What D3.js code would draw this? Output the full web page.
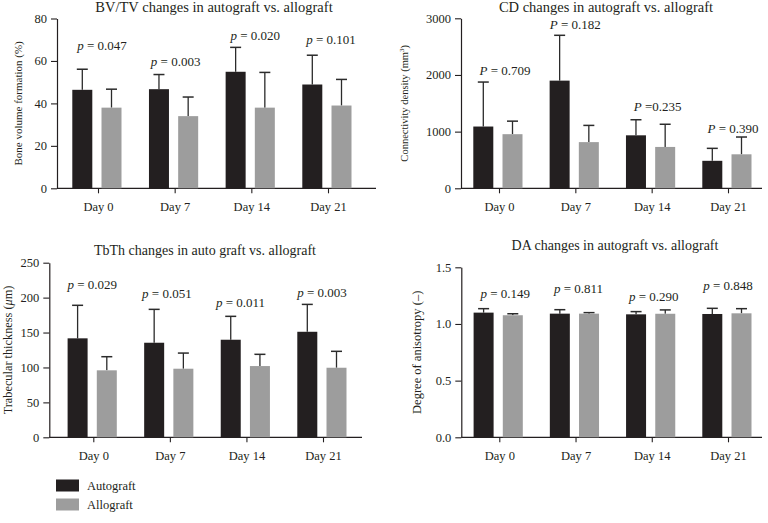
<!DOCTYPE html>
<html><head><meta charset="utf-8">
<script src="https://cdn.jsdelivr.net/npm/d3@7"></script>
<style>
html,body{margin:0;padding:0;background:#fff;}
text{font-family:"Liberation Serif","Times New Roman",serif;fill:#231f20;}
</style></head>
<body>
<svg id="c" width="768" height="523"></svg>
<script>
const categories = ["Day 0", "Day 7", "Day 14", "Day 21"];
const seriesNames = ["Autograft", "Allograft"];

// BV/TV (%)
const bvAuto = [46.4, 46.7, 54.9, 48.9];
const bvAutoErr = [56.1, 53.6, 66.4, 62.7];
const bvAllo = [38.0, 34.0, 38.0, 39.0];
const bvAlloErr = [46.7, 43.0, 54.6, 51.3];
const bvP = ["0.047", "0.003", "0.020", "0.101"];
const bvPAt = [65, 57.4, 70, 68];
const bvTicks = [0, 20, 40, 60, 80];

// CD (mm^3)
const cdAuto = [1090, 1900, 935, 485];
const cdAutoErr = [1875, 2700, 1210, 705];
const cdAllo = [955, 815, 730, 600];
const cdAlloErr = [1185, 1110, 1130, 905];
const cdP = ["= 0.709", "= 0.182", "=0.235", "= 0.390"];
const cdPAt = [2000, 2806, 1364, 981];
const cdTicks = [0, 1000, 2000, 3000];

// TbTh (um)
const tbAuto = [141.7, 135.4, 139.7, 151.1];
const tbAutoErr = [189, 183.2, 173.2, 190.3];
const tbAllo = [95.9, 98.2, 102, 99.6];
const tbAlloErr = [115.4, 120.6, 118.8, 123.1];
const tbP = ["0.029", "0.051", "0.011", "0.003"];
const tbPAt = [212, 200, 187, 201];
const tbTicks = [0, 50, 100, 150, 200, 250];

// DA (-)
const daAuto = [1.100, 1.091, 1.085, 1.088];
const daAutoErr = [1.135, 1.126, 1.109, 1.138];
const daAllo = [1.077, 1.091, 1.090, 1.094];
const daAlloErr = [1.090, 1.100, 1.124, 1.135];
const daP = ["0.149", "0.811", "0.290", "0.848"];
const daPAt = [1.227, 1.27, 1.205, 1.30];
const daTicks = [0.0, 0.5, 1.0, 1.5];

const colAuto = "#231f20", colAllo = "#9d9d9d", colErr = "#2b2b2b";
const svg = d3.select("#c");

function panel(cfg) {
  const g = svg.append("g");
  const y = d3.scaleLinear().domain([cfg.ticks[0], cfg.ticks[cfg.ticks.length-1]]).range([cfg.y0, cfg.yTop]);
  const x = d3.scalePoint().domain(categories).range([cfg.x0 + cfg.padL, cfg.x1 - cfg.padR]);

  const ya = g.append("g").attr("transform", `translate(${cfg.x0},0)`)
    .call(d3.axisLeft(y).tickValues(cfg.ticks).tickFormat(cfg.fmt).tickSize(6).tickSizeOuter(0).tickPadding(4));
  ya.select(".domain").attr("stroke", "#231f20").attr("stroke-width", 1.2);
  ya.selectAll(".tick line").attr("stroke", "#231f20").attr("stroke-width", 1.1);
  ya.selectAll("text").style("font-size", "12.5px").style("font-family", "Liberation Serif").attr("fill", "#231f20");

  const xa = g.append("g").attr("transform", `translate(0,${cfg.y0})`)
    .call(d3.axisBottom(x).tickSize(5).tickSizeOuter(0).tickPadding(9));
  xa.select(".domain").attr("d", `M${cfg.x0},0H${cfg.x1}`).attr("stroke", "#231f20").attr("stroke-width", 1.2);
  xa.selectAll(".tick line").attr("stroke", "#231f20").attr("stroke-width", 1.1);
  xa.selectAll("text").style("font-size", "12.5px").style("font-family", "Liberation Serif").attr("fill", "#231f20");

  const series = [
    {v: cfg.auto, e: cfg.autoErr, c: colAuto, dx: -25.7},
    {v: cfg.allo, e: cfg.alloErr, c: colAllo, dx: 3.5}
  ];
  const bw = 20;
  series.forEach(s => {
    categories.forEach((cat, i) => {
      const cx = x(cat) + s.dx + bw / 2;
      g.append("line").attr("x1", cx).attr("x2", cx).attr("y1", y(s.v[i])).attr("y2", y(s.e[i]))
        .attr("stroke", colErr).attr("stroke-width", 1.3);
      g.append("line").attr("x1", cx - 5.5).attr("x2", cx + 5.5).attr("y1", y(s.e[i])).attr("y2", y(s.e[i]))
        .attr("stroke", colErr).attr("stroke-width", 1.5);
      g.append("rect").attr("x", x(cat) + s.dx).attr("width", bw)
        .attr("y", y(s.v[i])).attr("height", y(cfg.ticks[0]) - y(s.v[i])).attr("fill", s.c);
    });
  });

  categories.forEach((cat, i) => {
    const t = g.append("text").attr("x", x(cat) + cfg.pdx[i]).attr("y", y(cfg.pAt[i]))
      .attr("text-anchor", "middle").style("font-size", "13px");
    t.append("tspan").attr("font-style", "italic").text(cfg.pSym);
    t.append("tspan").text(cfg.pSym === "P" ? " " + cfg.p[i] : " = " + cfg.p[i]);
  });

  g.append("text").attr("x", cfg.titleX).attr("y", cfg.titleY).attr("text-anchor", "middle")
    .style("font-size", cfg.titleSize + "px").text(cfg.title);

  const yl = g.append("text").attr("transform", `translate(${cfg.ylx},${(cfg.y0 + cfg.yTop) / 2}) rotate(-90)`)
    .attr("text-anchor", "middle").attr("dy", "0.35em").style("font-size", cfg.ylSize + "px");
  cfg.ylabel(yl);
}

panel({x0: 57, x1: 376, yTop: 18.5, y0: 188.3, padL: 41, padR: 48, ticks: bvTicks, fmt: d3.format("d"),
  auto: bvAuto, autoErr: bvAutoErr, allo: bvAllo, alloErr: bvAlloErr, p: bvP, pAt: bvPAt, pSym: "p",
  pdx: [4, 1, 4, 3],
  title: "BV/TV changes in autograft vs. allograft", titleX: 214, titleY: 11.5, titleSize: 14.5, ylx: 18, ylSize: 11,
  ylabel: t => t.text("Bone volume formation (%)")});

panel({x0: 461, x1: 762, yTop: 18.3, y0: 188.3, padL: 38, padR: 34, ticks: cdTicks, fmt: d3.format("d"),
  auto: cdAuto, autoErr: cdAutoErr, allo: cdAllo, alloErr: cdAlloErr, p: cdP, pAt: cdPAt, pSym: "P",
  pdx: [6, 0, 6, 5],
  title: "CD changes in autograft vs. allograft", titleX: 606, titleY: 11.5, titleSize: 14.5, ylx: 404, ylSize: 10.5,
  ylabel: t => { t.append("tspan").text("Connectivity density (mm"); t.append("tspan").attr("baseline-shift", "super").style("font-size", "7px").text("3"); t.append("tspan").text(")"); }});

panel({x0: 49.3, x1: 362, yTop: 262.7, y0: 437.3, padL: 44, padR: 39, ticks: tbTicks, fmt: d3.format("d"),
  auto: tbAuto, autoErr: tbAutoErr, allo: tbAllo, alloErr: tbAlloErr, p: tbP, pAt: tbPAt, pSym: "p",
  pdx: [-1, -3, -6, -1],
  title: "TbTh changes in auto graft vs. allograft", titleX: 205, titleY: 255, titleSize: 14, ylx: 8, ylSize: 12.3,
  ylabel: t => { t.append("tspan").text("Trabecular thickness ("); t.append("tspan").attr("font-style", "italic").text("μ"); t.append("tspan").text("m)"); }});

panel({x0: 461.3, x1: 762, yTop: 267.3, y0: 437.3, padL: 38, padR: 34, ticks: daTicks, fmt: d3.format(".1f"),
  auto: daAuto, autoErr: daAutoErr, allo: daAllo, alloErr: daAlloErr, p: daP, pAt: daPAt, pSym: "p",
  pdx: [6, 3, 2, 0],
  title: "DA changes in autograft vs. allograft", titleX: 615, titleY: 250, titleSize: 14, ylx: 417, ylSize: 12.5,
  ylabel: t => t.text("Degree of anisotropy (–)")});

const leg = svg.append("g");
seriesNames.forEach((n, i) => {
  leg.append("rect").attr("x", 56).attr("y", 479.5 + i * 19).attr("width", 23).attr("height", 12)
    .attr("fill", i === 0 ? colAuto : colAllo);
  leg.append("text").attr("x", 87).attr("y", 489.5 + i * 19).style("font-size", "12.5px").text(n);
});
</script>
</body></html>
